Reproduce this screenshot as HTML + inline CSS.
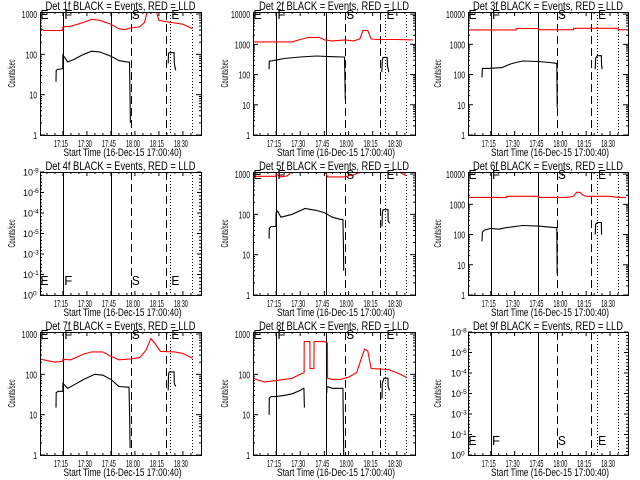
<!DOCTYPE html>
<html><head><meta charset="utf-8"><style>
body{margin:0;background:#fff}
svg{display:block}
text{font-family:"Liberation Sans",sans-serif;fill:#000}
</style></head><body>
<svg id="c" width="640" height="480" viewBox="0 0 640 480"></svg>
<script>
// ---- data ----
const titles = ["Det 1f","Det 2f","Det 3f","Det 4f","Det 5f","Det 6f","Det 7f","Det 8f","Det 9f"];
const yTopLog = [3.05,4.07,4.07,null,3.05,4.07,3.05,3.05,null];
const p1BlackT = [10.7,10.8,11.5,14.9,15,16,18,22,28,33,38,45,50,55,56.6,56.9,57.2,null,80.8,81,81.5,84.5,84.6,85.5];
const p1BlackV = [21,40,42,44,95,85,65,75,100,120,115,90,70,65,64,10,2,null,60,105,110,110,60,40];
const p1RedT = [0.7,3,10,14.9,15,20,28,33,38,45,50,54,57,63,66,68,73,75,80,85,90,96];
const p1RedV = [460,390,390,390,480,500,620,740,700,560,430,410,450,480,620,1300,1300,700,640,600,560,430];
const p2BlackT = [10.7,10.8,12,15,20,30,40,50,56,57.5,57.8,58,null,80.7,81,81.5,84,84.2,85];
const p2BlackV = [150,280,280,300,340,380,410,390,380,380,50,15,null,120,300,370,370,200,120];
const p2RedT = [0.7,25,30,35,42,45,50,58,63,67,69,72,74,78,90,100];
const p2RedV = [1200,1200,1450,1700,1700,1400,1300,1400,1300,1500,2900,2900,1500,1450,1450,1400];
const p3BlackT = [9.5,9.7,14,22,28,35,45,52,55,56.5,56.8,null,80.7,81,82,84.5,84.7,85];
const p3BlackV = [80,160,160,170,230,280,270,250,240,230,8,null,150,350,420,420,200,150];
const p3RedT = [0.7,31,31.1,45,45.1,67,67.1,95,95.1,100];
const p3RedV = [3000,3000,3350,3350,3050,3050,3400,3400,3050,3050];
const p5BlackT = [10.7,10.8,12,14.9,15,16,18,25,33,40,45,50,55,56.5,56.8,57,null,80.8,81,81.5,84.5,84.6,85.5];
const p5BlackV = [25,45,50,50,110,120,85,100,140,125,110,85,75,75,20,4,null,50,110,130,130,70,60];
const p5RedT = [0.7,14.9,15,18,22,25,45,47,57,63,70,90,96];
const p5RedV = [880,880,1000,850,900,1200,1200,850,850,950,1200,1200,900];
const p6BlackT = [9.5,9.7,11,15,20,25,35,45,50,55,56.5,56.8,null,80.7,81,82,84.5,84.7];
const p6BlackV = [60,120,140,160,150,170,200,190,180,170,170,5,null,100,220,250,250,100];
const p6RedT = [0.7,25,25.1,45,45.1,63,67,69,71,73,75,90,95,100];
const p6RedV = [1700,1700,1850,1850,1700,1700,1850,2500,2500,2000,1850,1850,1700,1700];
const p7BlackT = [10.7,10.8,12,14.9,15,18,22,28,35,40,45,50,56,56.3,56.7,57,null,80.8,81,81.5,84.5,84.6,85.5];
const p7BlackV = [15,35,38,38,60,45,55,75,100,95,75,50,48,48,10,1.5,null,40,100,115,115,60,50];
const p7RedT = [0.7,10,14.9,15,20,28,33,40,45,50,57,63,67,70,73,76,85,90,96];
const p7RedV = [240,200,210,235,230,320,360,360,280,230,240,260,400,780,550,370,360,330,250];
const p8BlackT = [10.7,10.8,12,15,20,25,30,32,32.3,32.6,null,46.5,46.6,50,55,56.5,56.8,57,null,80.8,81,82,84.5,84.6,85.5];
const p8BlackV = [10,26,28,28,30,33,40,45,45,15,null,35,50,45,45,45,5,1,null,25,60,80,80,50,40];
const p8RedT = [0.7,5,8,15,20,25,30,32.4,32.5,36,36.1,38.5,38.6,45,46.9,47,50,55,60,65,68,70,72,74,80,85,90,96];
const p8RedV = [80,70,65,70,75,80,100,110,650,650,140,140,650,650,600,80,75,75,85,110,250,420,380,140,135,130,110,85];
const blackT = [p1BlackT,p2BlackT,p3BlackT,null,p5BlackT,p6BlackT,p7BlackT,p8BlackT,null];
const blackV = [p1BlackV,p2BlackV,p3BlackV,null,p5BlackV,p6BlackV,p7BlackV,p8BlackV,null];
const redT = [p1RedT,p2RedT,p3RedT,null,p5RedT,p6RedT,p7RedT,p8RedT,null];
const redV = [p1RedV,p2RedV,p3RedV,null,p5RedV,p6RedV,p7RedV,p8RedV,null];
// vertical marker times: solid F, solid, dashed S, dashed, dotted, dotted
const markersCol1 = [15,45,57.5,79.4,82,95.7];
const markersCol2 = [15,46,58,79.6,82.8,95.9];
const markersCol3 = [15,45,56.7,78.3,81.7,95];
const xTickTimes = [15,30,45,60,75,90];
const xTickLabels = ["17:15","17:30","17:45","18:00","18:15","18:30"];
const emptyExps = ["0","-1","-3","-5","-4","-6","-8"];

const NS="http://www.w3.org/2000/svg";
const svg=document.getElementById('c');
function mk(tag,attrs,parent){const e=document.createElementNS(NS,tag);for(const k in attrs)e.setAttribute(k,attrs[k]);(parent||svg).appendChild(e);return e;}
const T0=0.67,T1=101.3;
const boxL=[40,253,468], boxW=[161,162,160];
for(let p=0;p<9;p++){
  const col=p%3,row=Math.floor(p/3);
  const L=boxL[col],R=L+boxW[col],Top=row*160+12,Bot=row*160+135;
  const g=mk('g',{});
  
  
  const xs=t=>L+(t-T0)/(T1-T0)*(R-L);
  const empty=yTopLog[p]===null;
  const topLog=empty?6:yTopLog[p];
  const ys=v=>Bot-Math.log10(v)/topLog*(Bot-Top);
  // title
  const tt=mk('text',{x:(L+R)/2-75,y:Top-2,'font-size':12,textLength:150,lengthAdjust:'spacingAndGlyphs'},g);
  tt.textContent=titles[p]+" BLACK = Events, RED = LLD";
  
  
  // y title
  const yt=mk('text',{x:-14,y:0,'font-size':10,textLength:28,lengthAdjust:'spacingAndGlyphs',transform:`translate(${L-(col==2?27:25)},${(Top+Bot)/2}) rotate(-90)`},g);
  yt.textContent="Counts/sec";
  
  
  // x title
  const xt=mk('text',{x:(L+R)/2+2-59,y:Bot+21,'font-size':11,textLength:118,lengthAdjust:'spacingAndGlyphs'},g);
  xt.textContent="Start Time (16-Dec-15 17:00:40)";
  
  
  // x ticks
  for(let i=0;i<xTickTimes.length;i++){
    const x=xs(xTickTimes[i]);
    mk('line',{x1:x,x2:x,y1:Bot,y2:Bot-4,stroke:'#000'},g);
    mk('line',{x1:x,x2:x,y1:Top,y2:Top+4,stroke:'#000'},g);
    const tl=mk('text',{x:x-2-7,y:Bot+12,'font-size':10.5,textLength:14,lengthAdjust:'spacingAndGlyphs'},g);
    tl.textContent=xTickLabels[i];
    
    
  }
  for(let m=5;m<100;m+=5){if(m%15){const x=xs(m);mk('line',{x1:x,x2:x,y1:Bot,y2:Bot-2,stroke:'#000'},g);mk('line',{x1:x,x2:x,y1:Top,y2:Top+2,stroke:'#000'},g);}}
  // y ticks
  if(!empty){
    for(let d=0;d<=Math.floor(topLog);d++){
      const y=ys(Math.pow(10,d));
      mk('line',{x1:L,x2:L+5,y1:y,y2:y,stroke:'#000'},g);
      mk('line',{x1:R,x2:R-5,y1:y,y2:y,stroke:'#000'},g);
      const s=String(Math.pow(10,d));
      const w=s.length*3.8;
      const yl=mk('text',{x:L-3-w,y:y+4,'font-size':10.5,textLength:w,lengthAdjust:'spacingAndGlyphs'},g);
      yl.textContent=s;
      
      
      for(let k=2;k<10;k++){const v=k*Math.pow(10,d);if(Math.log10(v)>topLog)break;const yy=ys(v);
        mk('line',{x1:L,x2:L+2,y1:yy,y2:yy,stroke:'#000'},g);mk('line',{x1:R,x2:R-2,y1:yy,y2:yy,stroke:'#000'},g);}
    }
  } else {
    for(let i=0;i<emptyExps.length;i++){
      const y=Bot-i*(Bot-Top)/6;
      mk('line',{x1:L,x2:L+4,y1:y,y2:y,stroke:'#000'},g);
      mk('line',{x1:R,x2:R-4,y1:y,y2:y,stroke:'#000'},g);
      for(let k=1;k<6;k++){const yy=y-k*(Bot-Top)/36;if(i<6){mk('line',{x1:L,x2:L+2,y1:yy,y2:yy,stroke:'#000'},g);mk('line',{x1:R,x2:R-2,y1:yy,y2:yy,stroke:'#000'},g);}}
      const yl=mk('text',{x:L-17,y:y+3.5,'font-size':9},g);
      yl.textContent="10";
      const sp=mk('tspan',{'font-size':6.5,dy:-3},yl);sp.textContent=emptyExps[i];
      
      
    }
  }
  // clip
  const cid='clip'+p;
  const cp=mk('clipPath',{id:cid},g);mk('rect',{x:L,y:Top,width:R-L,height:Bot-Top},cp);
  const dg=mk('g',{'clip-path':`url(#${cid})`},g);
  // markers
  const mt=col==0?markersCol1:col==1?markersCol2:markersCol3;
  const styles=[null,null,'8,4','8,4','1,2','1,2'];
  for(let i=0;i<mt.length;i++){
    const x=Math.round(xs(mt[i]))+0.5;
    const a={x1:x,x2:x,y1:Top,y2:Bot,stroke:'#000','stroke-width':1};
    if(styles[i])a['stroke-dasharray']=styles[i];
    const ln=mk('line',a,dg);
    
    
  }
  // series
  function series(ts,vs,color,name){
    let d='',pen=false;
    for(let i=0;i<ts.length;i++){
      if(ts[i]===null){pen=false;continue;}
      d+=(pen?'L':'M')+xs(ts[i]).toFixed(1)+','+ys(vs[i]).toFixed(1);pen=true;
    }
    const pth=mk('path',{d:d,fill:'none',stroke:color,'stroke-width':1.1},dg);
    
    
  }
  if(!empty){
    series(redT[p],redV[p],'#f00','lld-series');
    series(blackT[p],blackV[p],'#000','events-series');
  }
  // letters
  const letters=["E","F","S","E"];
  const lt=[T0+0.3,mt[0]+0.8,mt[2]+0.5,mt[4]+0.8];
  for(let i=0;i<4;i++){
    const le=mk('text',{x:xs(lt[i]),y:empty?Bot-10:Top+7,'font-size':13,textLength:8,lengthAdjust:'spacingAndGlyphs'},g);
    le.textContent=letters[i];
    
    
  }
  // box
  const bx=mk('rect',{x:L+0.5,y:Top+0.5,width:R-L,height:Bot-Top,fill:'none',stroke:'#000'},g);
  
  
}
</script>
</body></html>
